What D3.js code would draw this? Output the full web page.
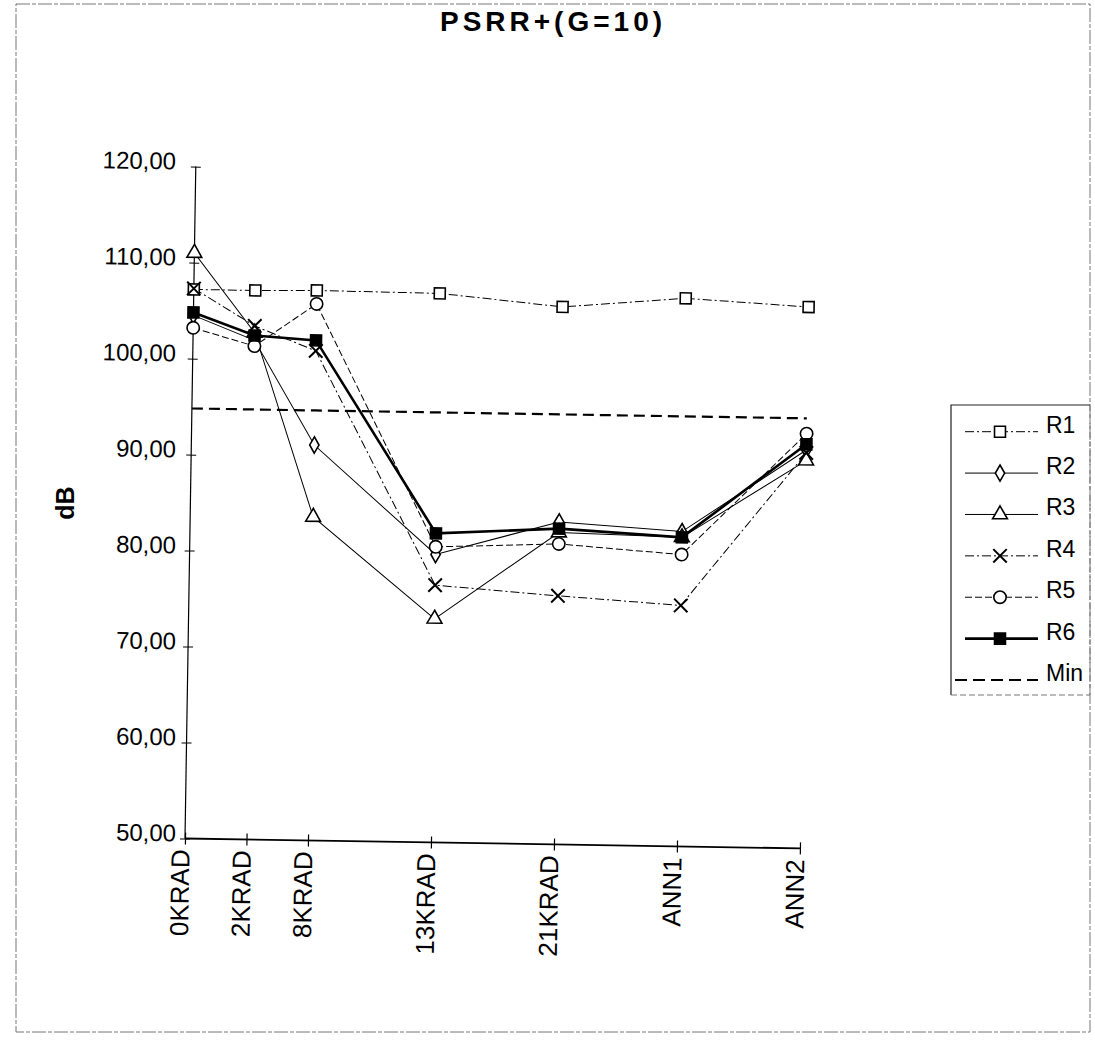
<!DOCTYPE html>
<html>
<head>
<meta charset="utf-8">
<script src="https://cdn.jsdelivr.net/npm/d3@7"></script>
<style>
  html, body { margin: 0; padding: 0; background: #fff; }
  svg { display: block; font-family: "Liberation Sans", Arial, sans-serif; }
</style>
</head>
<body>
<svg id="chart" width="1095" height="1054"></svg>
<script>
// ---------------- data ----------------
const categories = ["0KRAD", "2KRAD", "8KRAD", "13KRAD", "21KRAD", "ANN1", "ANN2"];
const xPositions = [0, 1, 2, 4, 6, 8, 10];
const seriesNames = ["R1", "R2", "R3", "R4", "R5", "R6"];
const R1 = [107.2, 107.2, 107.3, 107.2, 106.0, 107.1, 106.4];
const R2 = [104.5, 102.0, 91.2, 80.0, 83.6, 82.8, 91.5];
const R3 = [111.0, 102.8, 83.7, 73.3, 82.5, 82.2, 90.4];
const R4 = [107.3, 103.5, 101.0, 76.8, 75.9, 75.1, 91.2];
const R5 = [103.2, 101.4, 105.9, 80.8, 81.3, 80.4, 93.2];
const R6 = [104.8, 102.5, 102.1, 82.2, 82.9, 82.2, 92.1];
const minValues = [94.8, 94.8, 94.8, 94.8, 94.8, 94.8, 94.8];
const yTicks = [50, 60, 70, 80, 90, 100, 110, 120];
const titleText = "PSRR+(G=10)";
const yLabel = "dB";

// ---------------- styles ----------------
const seriesValues = [R1, R2, R3, R4, R5, R6];
const styles = [
  { marker: "square",  fill: "#fff", width: 1,   dash: "9,3,2,3" },
  { marker: "diamond", fill: "#fff", width: 1,   dash: null },
  { marker: "triangle",fill: "#fff", width: 1,   dash: null },
  { marker: "x",       fill: "none", width: 1,   dash: "9,3,2,3" },
  { marker: "circle",  fill: "#fff", width: 1,   dash: "7,3" },
  { marker: "square",  fill: "#000", width: 2.6, dash: null }
];

const svg = d3.select("#chart");
const fmt = v => d3.format(".2f")(v).replace(".", ",");
const TILT = 0.92;                       // scan tilt in degrees
const tiltTan = Math.tan(TILT * Math.PI / 180);

// page border (scanned frame)
svg.append("rect")
  .attr("x", 16).attr("y", 4).attr("width", 1074).attr("height", 1028)
  .attr("fill", "none").attr("stroke", "#777").attr("stroke-width", 1)
  .attr("stroke-dasharray", "14,2,4,2");

// title
svg.append("text")
  .attr("x", 553).attr("y", 31)
  .attr("text-anchor", "middle")
  .attr("font-size", 28).attr("font-weight", "bold")
  .attr("letter-spacing", "4px")
  .text(titleText);

// plot group (slightly rotated, as in the scan)
const W = 615, H = 672;
const g = svg.append("g").attr("transform", `translate(185,838.5) rotate(${TILT})`);

const x = d3.scaleLinear().domain([0, 10]).range([0, W]);
const y = d3.scaleLinear().domain([50, 120]).range([0, -H]);

// y axis
const yAxis = g.append("g").call(
  d3.axisLeft(y).tickValues(yTicks).tickSize(5).tickPadding(6).tickFormat(fmt)
);
yAxis.select(".domain").remove();
yAxis.selectAll(".tick line").attr("x1", -5).attr("x2", 5).attr("stroke", "#000");
yAxis.selectAll(".tick text")
  .attr("x", d => -9 + y(d) * tiltTan).attr("dy", "0.32em").attr("y", -5)
  .attr("font-size", 24).attr("font-family", "'Liberation Sans', Arial, sans-serif")
  .attr("fill", "#000");
g.append("line").attr("x1", 0).attr("x2", 0).attr("y1", 0).attr("y2", y(120))
  .attr("stroke", "#000").attr("stroke-width", 1.2);

// x axis
const xAxis = g.append("g").call(
  d3.axisBottom(x).tickValues(xPositions).tickSize(6).tickFormat((d, i) => categories[i])
);
xAxis.select(".domain").remove();
xAxis.selectAll(".tick line").attr("y1", -6).attr("y2", 6).attr("stroke", "#000").attr("stroke-width", 1.2);
xAxis.selectAll(".tick text")
  .attr("transform", "translate(-5,11) rotate(-90)")
  .attr("x", 0).attr("y", 0).attr("dy", "0.35em")
  .attr("text-anchor", "end")
  .attr("font-size", 26).attr("font-family", "'Liberation Sans', Arial, sans-serif")
  .attr("fill", "#000");
g.append("line").attr("x1", 0).attr("x2", W).attr("y1", 0).attr("y2", 0)
  .attr("stroke", "#000").attr("stroke-width", 1.8);

// y label
svg.append("text")
  .attr("transform", "translate(74,503) rotate(-90)")
  .attr("text-anchor", "middle")
  .attr("font-size", 25).attr("font-weight", "bold")
  .text(yLabel);

// markers
function markerPath(type) {
  const sym = {
    square: d3.symbol(d3.symbolSquare, 120),
    diamond: d3.symbol(d3.symbolDiamond, 75),
    triangle: d3.symbol(d3.symbolTriangle, 95),
    circle: d3.symbol(d3.symbolCircle, 120),
    x: d3.symbol(d3.symbolTimes || d3.symbolX || d3.symbolCross, 120)
  };
  return sym[type]();
}

const line = d3.line().x(d => x(d[0])).y(d => y(d[1]));

// Min line
g.append("path")
  .datum(xPositions.map((p, i) => [p, minValues[i]]))
  .attr("d", line)
  .attr("fill", "none").attr("stroke", "#000")
  .attr("stroke-width", 2.2).attr("stroke-dasharray", "11,6");

seriesValues.forEach((vals, si) => {
  const st = styles[si];
  const pts = xPositions.map((p, i) => [p, vals[i]]);
  g.append("path").datum(pts).attr("d", line)
    .attr("fill", "none").attr("stroke", "#000")
    .attr("stroke-width", st.width)
    .attr("stroke-dasharray", st.dash);
});
seriesValues.forEach((vals, si) => {
  const st = styles[si];
  const pts = xPositions.map((p, i) => [p, vals[i]]);
  g.selectAll(null).data(pts).enter().append("path")
    .attr("transform", d => `translate(${x(d[0])},${y(d[1])})`)
    .attr("d", markerPath(st.marker))
    .attr("fill", st.marker === "x" ? "none" : st.fill)
    .attr("stroke", "#000")
    .attr("stroke-width", st.marker === "x" ? 2 : 1.6);
});

// legend
const leg = svg.append("g").attr("transform", "translate(951,405)");
leg.append("path").attr("d", "M0,290 L0,0 L139,0")
  .attr("fill", "none").attr("stroke", "#222").attr("stroke-width", 1.2);
leg.append("path").attr("d", "M0,290 L139,290 M139,0 L139,290")
  .attr("fill", "none").attr("stroke", "#777").attr("stroke-width", 1)
  .attr("stroke-dasharray", "6,3");
const legendNames = seriesNames.concat(["Min"]);
const rowY = d3.scaleLinear().domain([0, 6]).range([26.7, 275]);
legendNames.forEach((name, i) => {
  const ry = rowY(i);
  const row = leg.append("g").attr("transform", `translate(0,${ry})`);
  if (i < 6) {
    const st = styles[i];
    row.append("line").attr("x1", 14).attr("x2", 87)
      .attr("stroke", "#000").attr("stroke-width", st.width)
      .attr("stroke-dasharray", st.dash);
    row.append("path").attr("transform", "translate(49,0)")
      .attr("d", markerPath(st.marker))
      .attr("fill", st.marker === "x" ? "none" : st.fill)
      .attr("stroke", "#000")
      .attr("stroke-width", st.marker === "x" ? 2 : 1.6);
  } else {
    row.append("line").attr("x1", 4).attr("x2", 87)
      .attr("stroke", "#000").attr("stroke-width", 2.2)
      .attr("stroke-dasharray", "12,6");
  }
  row.append("text").attr("x", 95).attr("y", 1)
    .attr("font-size", 23).text(name);
});
</script>
</body>
</html>
